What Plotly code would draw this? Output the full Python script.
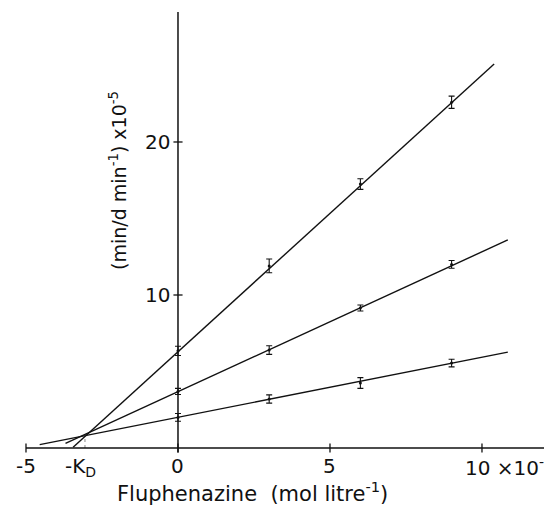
import plotly.graph_objects as go

# Data (x in mol/litre x1e-5, y in (min/dmin^-1) x1e-5)
conc = [0, 3, 6, 9]
top_vals = [6.35, 11.9, 17.25, 22.6]
top_err = [0.3, 0.45, 0.35, 0.4]
mid_vals = [3.7, 6.4, 9.15, 12.0]
mid_err = [0.2, 0.28, 0.2, 0.25]
low_vals = [2.0, 3.2, 4.25, 5.55]
low_err = [0.25, 0.27, 0.35, 0.25]

# fitted line endpoints
top_line_x = [-3.45, 10.4]
top_line_y = [0.05, 25.1]
mid_line_x = [-3.7, 10.85]
mid_line_y = [0.3, 13.6]
low_line_x = [-4.55, 10.85]
low_line_y = [0.22, 6.27]

kd_x = -3.06
kd_y = 0.8

x_ticks = [-5, 0, 5, 10]
y_ticks = [10, 20]

INK = "#111111"
FONT = "DejaVu Sans, sans-serif"

fig = go.Figure()

for lx, ly in [(top_line_x, top_line_y), (mid_line_x, mid_line_y), (low_line_x, low_line_y)]:
    fig.add_trace(go.Scatter(x=lx, y=ly, mode="lines",
                             line=dict(color=INK, width=1.4), showlegend=False, hoverinfo="skip"))

for vals, err in [(top_vals, top_err), (mid_vals, mid_err), (low_vals, low_err)]:
    fig.add_trace(go.Scatter(x=conc, y=vals, mode="markers",
                             marker=dict(color=INK, size=3),
                             error_y=dict(type="data", array=err, visible=True,
                                          color=INK, thickness=1.1, width=3),
                             showlegend=False))

# K_D dotted drop line
fig.add_trace(go.Scatter(x=[kd_x, kd_x], y=[0, kd_y], mode="lines",
                         line=dict(color="#888888", width=1, dash="dot"),
                         showlegend=False, hoverinfo="skip"))

shapes = []
shapes.append(dict(type="line", xref="x", yref="y", x0=-5, x1=12.1, y0=0, y1=0,
                   line=dict(color=INK, width=1.5)))
shapes.append(dict(type="line", xref="x", yref="y", x0=0, x1=0, y0=-0.3, y1=28.5,
                   line=dict(color=INK, width=1.5)))
for t in x_ticks:
    shapes.append(dict(type="line", xref="x", yref="y", x0=t, x1=t, y0=-0.3, y1=0.3,
                       line=dict(color=INK, width=1.3)))
for t in y_ticks:
    shapes.append(dict(type="line", xref="x", yref="y", x0=-0.15, x1=0.15, y0=t, y1=t,
                       line=dict(color=INK, width=1.3)))

ann = []
fs = 20
for t in [-5, 0, 5]:
    ann.append(dict(x=t, y=0, xref="x", yref="y", text=str(t), showarrow=False,
                    yanchor="top", yshift=-4, font=dict(size=fs, color=INK, family=FONT)))
ann.append(dict(x=kd_x - 0.15, y=0, xref="x", yref="y", text="-K<sub>D</sub>", showarrow=False,
                yanchor="top", yshift=-4, font=dict(size=fs, color=INK, family=FONT)))
ann.append(dict(x=9.38, y=0, xref="x", yref="y", text="10 \u00d710<sup>-5</sup>", showarrow=False,
                xanchor="left", yanchor="top", yshift=-4, font=dict(size=fs, color=INK, family=FONT)))
for t in y_ticks:
    ann.append(dict(x=0, y=t, xref="x", yref="y", text=str(t), showarrow=False,
                    xanchor="right", xshift=-6, font=dict(size=fs, color=INK, family=FONT)))
ann.append(dict(x=2.45, y=-2.85, xref="x", yref="y",
                text="Fluphenazine  (mol litre<sup>-1</sup>)", showarrow=False,
                font=dict(size=21, color=INK, family=FONT)))
ann.append(dict(x=-1.95, y=17.5, xref="x", yref="y", textangle=-90,
                text="(min/d min<sup>-1</sup>) x10<sup>-5</sup>", showarrow=False,
                font=dict(size=19, color=INK, family=FONT)))

fig.update_layout(
    width=544, height=507, autosize=False,
    margin=dict(l=0, r=0, t=0, b=0),
    paper_bgcolor="white", plot_bgcolor="white",
    xaxis=dict(range=[-5.855, 12.04], visible=False, fixedrange=True),
    yaxis=dict(range=[-3.856, 29.28], visible=False, fixedrange=True),
    shapes=shapes, annotations=ann,
)

fig.write_html("out.html",
               config={"displayModeBar": False, "staticPlot": True},
               post_script="document.body.style.margin='0px';document.body.style.overflow='hidden';")
